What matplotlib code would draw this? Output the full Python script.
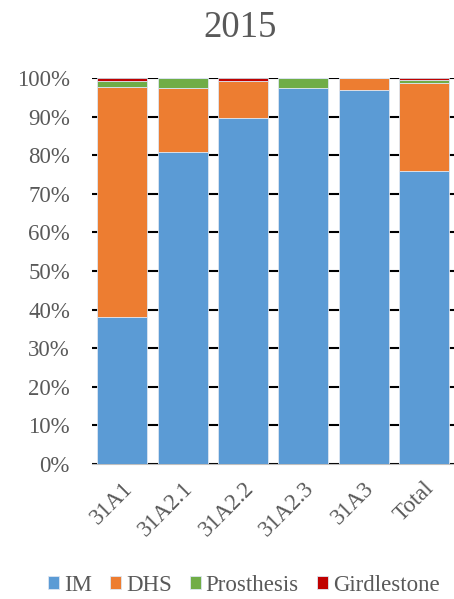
import matplotlib.pyplot as plt
import numpy as np

categories = ['31A1', '31A2.1', '31A2.2', '31A2.3', '31A3', 'Total']
im = [38.1, 80.8, 89.6, 97.4, 96.9, 76.0]
dhs = [59.5, 16.6, 9.6, 0.0, 3.1, 22.6]
prosthesis = [1.5, 2.6, 0.0, 2.6, 0.0, 0.8]
girdlestone = [0.9, 0.0, 0.8, 0.0, 0.0, 0.6]

series = [('IM', im, '#5B9BD5'), ('DHS', dhs, '#ED7D31'),
          ('Prosthesis', prosthesis, '#70AD47'), ('Girdlestone', girdlestone, '#C00000')]

plt.rcParams['font.family'] = ['Liberation Serif', 'DejaVu Serif']

fig = plt.figure(figsize=(4.54, 5.99), dpi=100)
ax = fig.add_axes([0.203, 0.2254, 0.797, 0.6444])

x = np.arange(len(categories))
bottom = np.zeros(len(categories))
for name, vals, col in series:
    ax.bar(x, vals, bottom=bottom, width=0.83, color=col, label=name,
           edgecolor='#DCE6F2', linewidth=0.6, zorder=3)
    bottom += np.array(vals)

ax.set_xlim(-0.5, len(categories) - 0.5)
ax.set_ylim(0, 100)
ax.set_yticks(np.arange(0, 101, 10))
ax.set_yticklabels(['%d%%' % v for v in range(0, 101, 10)], fontsize=16.5, color='#595959')
ax.set_xticks(x)
ax.set_xticklabels(categories, rotation=45, ha='right', rotation_mode='anchor',
                   fontsize=16.5, color='#595959')
ax.tick_params(axis='y', length=0, pad=16)
ax.tick_params(axis='x', length=0, pad=10)
ax.grid(axis='y', color='black', linewidth=1.5, zorder=0)
ax.set_axisbelow(True)
for s in ['top', 'right', 'left']:
    ax.spines[s].set_visible(False)
ax.spines['bottom'].set_color('#BFBFBF')

fig.text(0.529, 0.938, '2015', ha='center', va='baseline', fontsize=26.5, color='#595959')
fig.legend(loc='center', ncol=4, bbox_to_anchor=(0.537, 0.023), frameon=False,
           fontsize=16.5, labelcolor='#595959', handlelength=0.47, handleheight=0.47,
           handletextpad=0.22, columnspacing=0.8, borderpad=0, borderaxespad=0)

fig.savefig('out.png', dpi=100)
